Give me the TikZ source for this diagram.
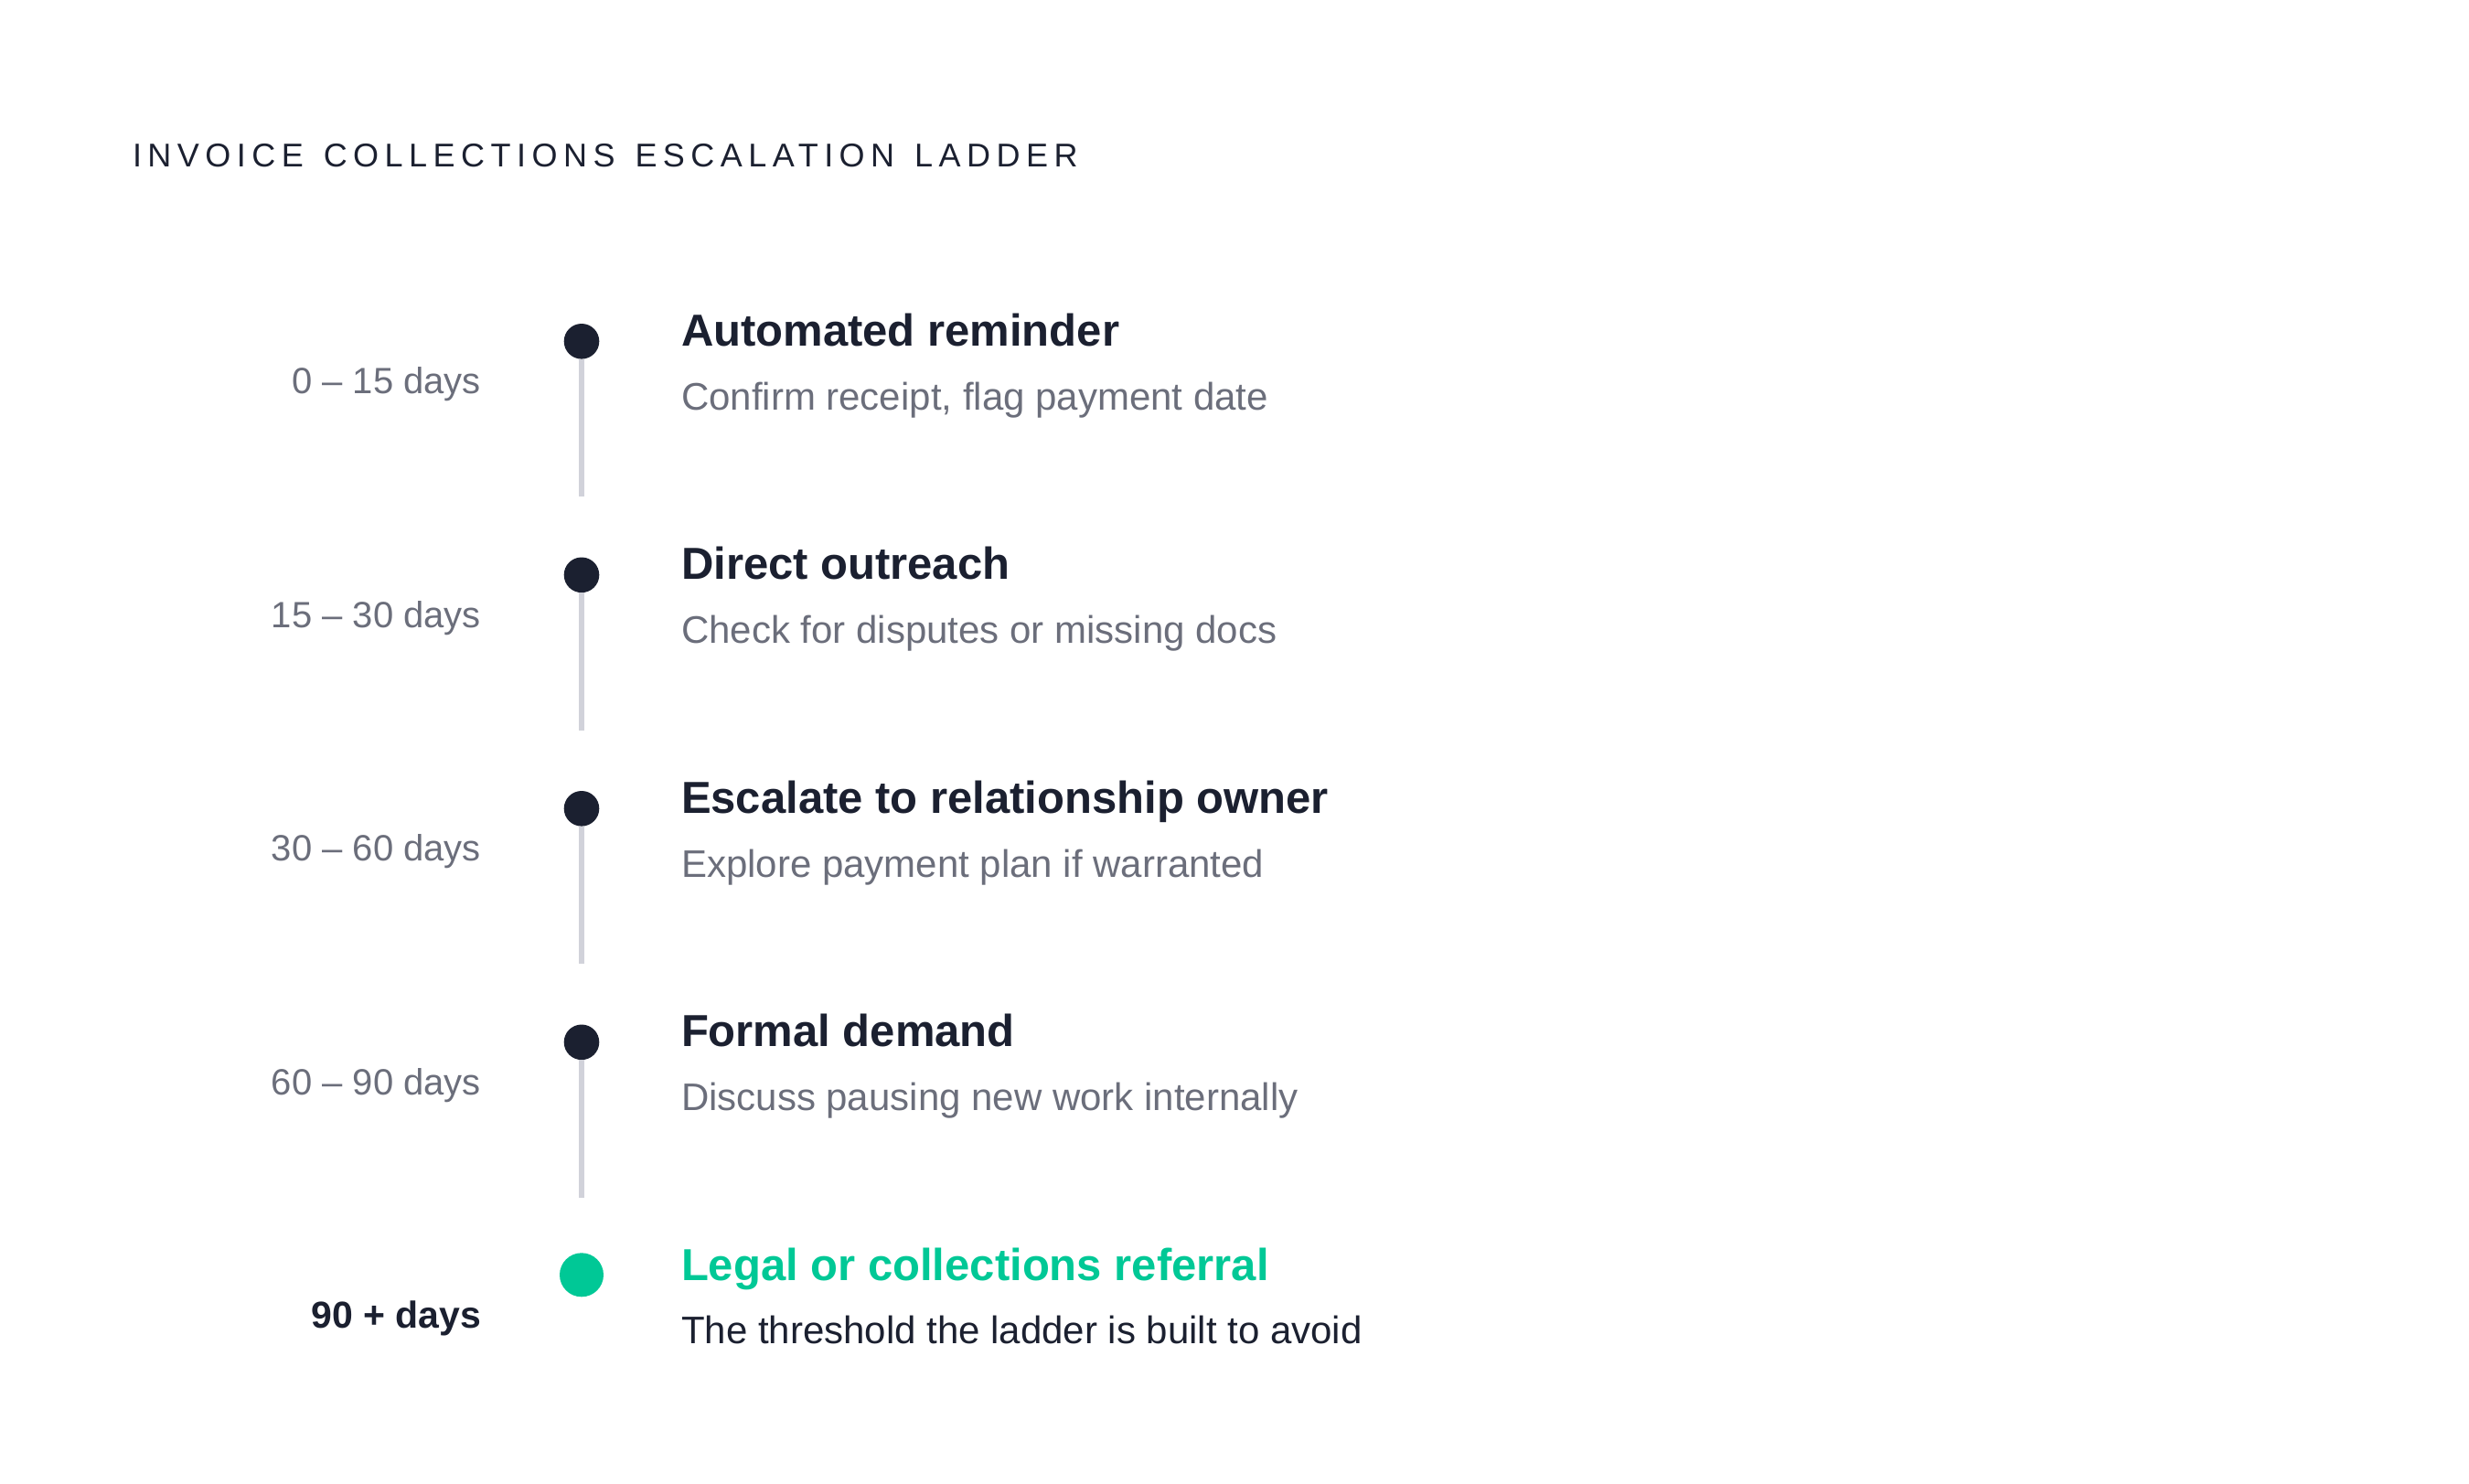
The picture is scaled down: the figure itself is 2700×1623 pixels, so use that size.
\documentclass[tikz,border=0pt]{standalone}
\usepackage{fontspec}
\setmainfont{Liberation Sans}
\definecolor{ink}{HTML}{1B2030}
\definecolor{muted}{HTML}{6B6E7B}
\definecolor{rail}{HTML}{D1D2DA}
\definecolor{mint}{HTML}{00C896}
\newcommand{\wordgap}{\ \hspace{2.7pt}}
\begin{document}
\begin{tikzpicture}[x=0.5pt,y=-0.5pt,
  every node/.style={inner sep=0pt,outer sep=0pt},
  titletext/.style={anchor=base west,text=ink,font=\fontsize{18pt}{22pt}\selectfont\addfontfeature{LetterSpace=18}},
  heading/.style={anchor=base west,text=ink,font=\fontsize{24.5pt}{28pt}\selectfont\bfseries},
  subline/.style={anchor=base west,text=muted,font=\fontsize{21pt}{25pt}\selectfont},
  rangelabel/.style={anchor=base east,text=muted,font=\fontsize{20pt}{24pt}\selectfont},
  stepdot/.style={circle,fill=ink,minimum size=19.3pt},
  finaldot/.style={circle,fill=mint,minimum size=24pt},
  railline/.style={draw=rail,line width=3pt}
]
\useasboundingbox (0,0) rectangle (2700,1623);
\fill[white] (0,0) rectangle (2700,1623);

\node[titletext] (title) at (145,182.3) {INVOICE\wordgap COLLECTIONS\wordgap ESCALATION\wordgap LADDER};

\foreach \k/\rng/\hd/\sb in {
  0/{0 – 15 days}/{Automated reminder}/{Confirm receipt, flag payment date},
  1/{15 – 30 days}/{Direct outreach}/{Check for disputes or missing docs},
  2/{30 – 60 days}/{Escalate to relationship owner}/{Explore payment plan if warranted},
  3/{60 – 90 days}/{Formal demand}/{Discuss pausing new work internally}}{
  \pgfmathsetmacro\yy{373.3+255.5*\k}
  \coordinate (railend\k) at (636,\yy+169.7);
  \node[stepdot] (dot\k) at (636,\yy) {};
  \draw[railline] (dot\k.south) -- (railend\k);
  \node[heading] (head\k) at (745,\yy+5) {\hd};
  \node[subline] (sub\k) at (745,\yy+75) {\sb};
  \node[rangelabel] (range\k) at (526,\yy+57.4) {\rng};
}

\node[finaldot] (dot4) at (636,1394.3) {};
\node[heading,text=mint] (head4) at (745,1400.5) {Legal or collections referral};
\node[subline,text=ink] (sub4) at (745,1469) {The threshold the ladder is built to avoid};
\node[rangelabel,text=ink,font=\fontsize{20.5pt}{24pt}\selectfont\bfseries] (range4) at (526,1452) {90 + days};
\end{tikzpicture}
\end{document}
